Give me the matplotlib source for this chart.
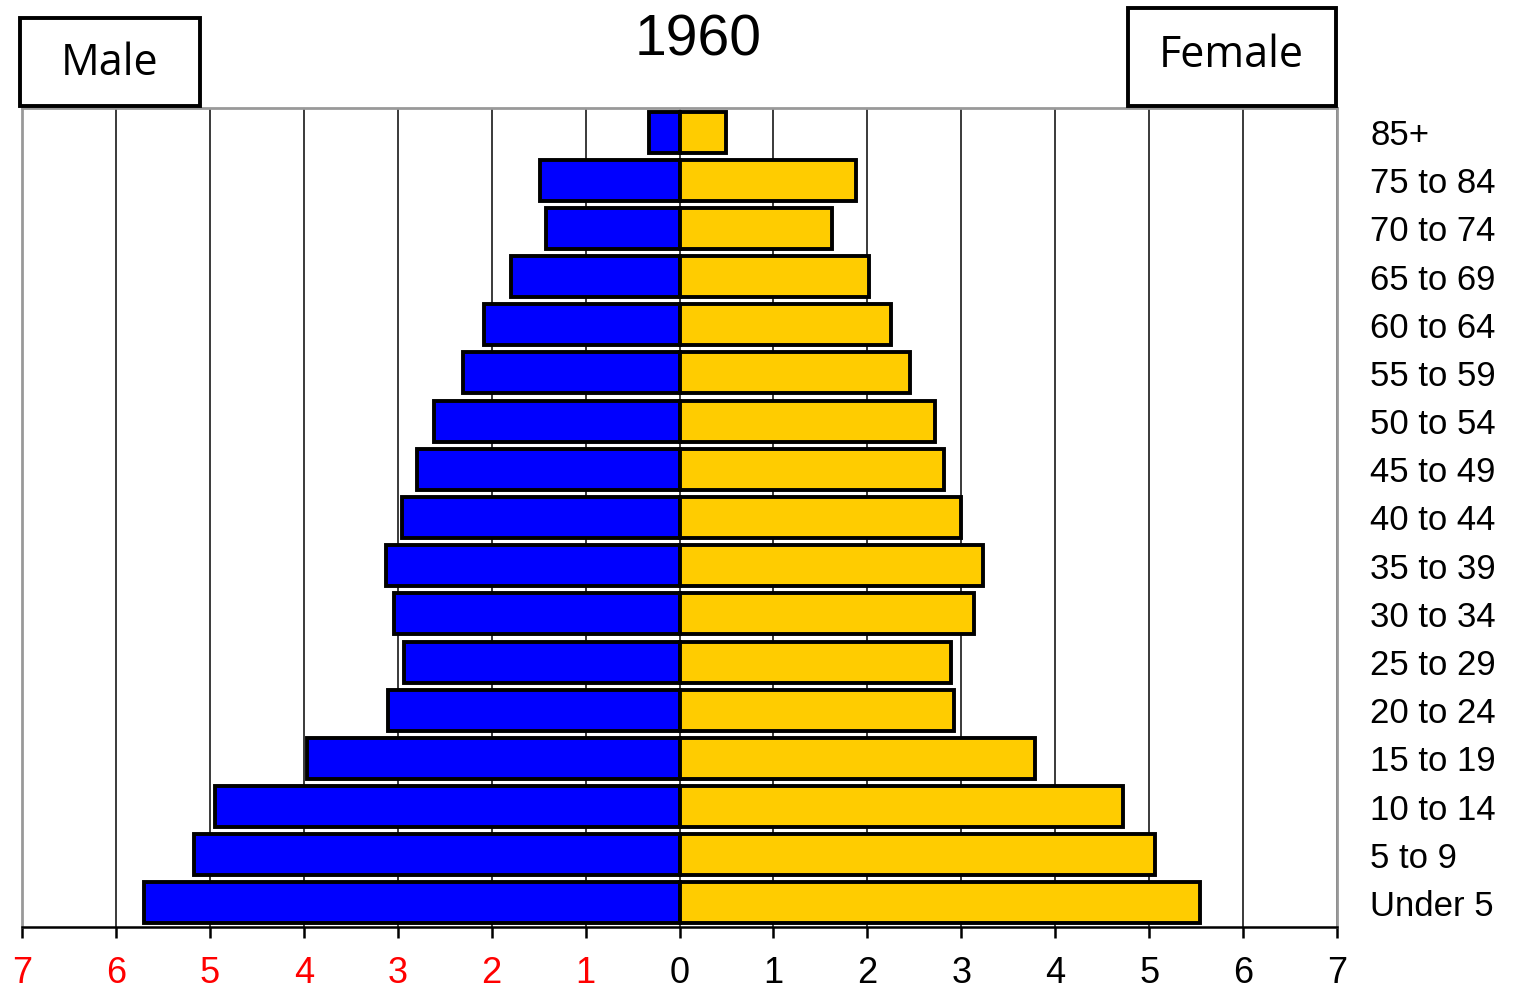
import matplotlib
matplotlib.use("Agg")
import matplotlib.pyplot as plt
from matplotlib.patches import Rectangle

# tranches d'âge (de haut en bas) et pourcentages
age_groups = ["85+", "75 to 84", "70 to 74", "65 to 69", "60 to 64", "55 to 59",
              "50 to 54", "45 to 49", "40 to 44", "35 to 39", "30 to 34",
              "25 to 29", "20 to 24", "15 to 19", "10 to 14", "5 to 9", "Under 5"]
male = [0.32, 1.48, 1.42, 1.79, 2.08, 2.30, 2.61, 2.79, 2.95, 3.12, 3.04,
        2.93, 3.10, 3.97, 4.95, 5.17, 5.70]
female = [0.49, 1.88, 1.62, 2.02, 2.25, 2.45, 2.72, 2.82, 3.00, 3.23, 3.14,
          2.89, 2.92, 3.78, 4.72, 5.06, 5.54]
tick_values = list(range(-7, 8))
tick_labels = [str(abs(v)) for v in tick_values]
title = "1960"

W, H = 1513, 990
fig = plt.figure(figsize=(W / 100, H / 100), dpi=100)
ax = fig.add_axes([22 / W, 1 - 927 / H, (1337 - 22) / W, (927 - 108) / H])

y = list(range(len(age_groups)))
ax.barh(y, [-m for m in male], height=0.85, color="#0000FF",
        edgecolor="black", linewidth=2.8, zorder=3)
ax.barh(y, female, height=0.85, color="#FFCC00",
        edgecolor="black", linewidth=2.8, zorder=3)

ax.set_xlim(-7, 7)
ax.set_ylim(len(age_groups) - 0.5, -0.5)
ax.set_xticks(tick_values)
ax.set_xticklabels(tick_labels, fontsize=26, family="Liberation Sans")
for lab, v in zip(ax.get_xticklabels(), tick_values):
    lab.set_color("red" if v < 0 else "black")
ax.tick_params(axis="x", length=8, width=1.8, pad=13, direction="out")

ax.yaxis.tick_right()
ax.set_yticks(y)
ax.set_yticklabels(age_groups, fontsize=25, family="Liberation Sans")
ax.tick_params(axis="y", length=0, pad=24)

ax.grid(axis="x", color="#3a3a3a", linewidth=1.4, zorder=0)
ax.set_axisbelow(True)
for side in ["top", "left", "right"]:
    ax.spines[side].set_color("#999999")
    ax.spines[side].set_linewidth(2)
ax.spines["bottom"].set_color("black")
ax.spines["bottom"].set_linewidth(1.8)

fig.text(698 / W, 1 - 40 / H, title, ha="center", va="center",
         fontsize=41, family="Liberation Sans")

# cadres "Male" et "Female" en haut
boxes = [("Male", 20, 200, 18, 106, 110, 64), ("Female", 1128, 1336, 8, 106, 1231, 56)]
for label, x0, x1, y0, y1, tx, ty in boxes:
    fig.patches.append(Rectangle((x0 / W, 1 - y1 / H), (x1 - x0) / W, (y1 - y0) / H,
                                 transform=fig.transFigure, facecolor="white",
                                 edgecolor="black", linewidth=2.8, zorder=5))
    fig.text(tx / W, 1 - ty / H, label, ha="center", va="center",
             fontsize=31, family="Open Sans", zorder=6)

fig.savefig("out.png", dpi=100)
